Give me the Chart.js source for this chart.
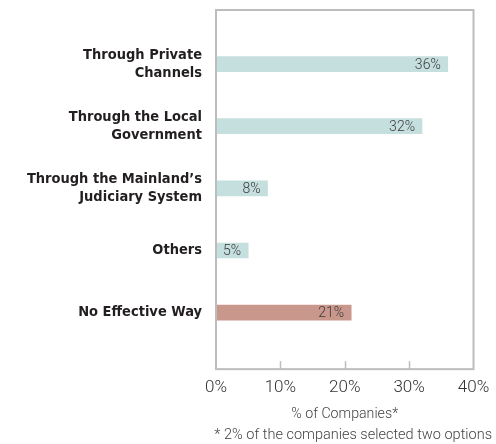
<!DOCTYPE html>
<html>
<head>
<meta charset="utf-8">
<script src="https://cdn.jsdelivr.net/npm/chart.js@4/dist/chart.umd.min.js"></script>
<style>
  html, body { margin: 0; padding: 0; background: #ffffff; }
  #wrap { width: 496px; height: 444px; }
</style>
</head>
<body>
<div id="wrap"><canvas id="c" width="496" height="444"></canvas></div>
<script>
// Channels used by companies, share of respondents (%)
const categories = [
  ["Through Private", "Channels"],
  ["Through the Local", "Government"],
  ["Through the Mainland’s", "Judiciary System"],
  "Others",
  "No Effective Way"
];
const shares = [36, 32, 8, 5, 21];
const barColors = ["#c4dfdd", "#c4dfdd", "#c4dfdd", "#c4dfdd", "#c9978b"];
const xTicks = [0, 10, 20, 30, 40];
const xTitle = "% of Companies*";
const footnote = "* 2% of the companies selected two options";

const frameColor = "#bdbdbd";

// Box around the plot plus short inward ticks on the bottom edge
const framePlugin = {
  id: "frame",
  afterDatasetsDraw(chart) {
    const { ctx, chartArea: a, scales } = chart;
    ctx.save();
    ctx.strokeStyle = frameColor;
    ctx.lineWidth = 2;
    ctx.strokeRect(a.left, a.top, a.right - a.left, a.bottom - a.top);
    ctx.lineWidth = 1.5;
    xTicks.slice(1, -1).forEach(v => {
      const x = Math.round(scales.x.getPixelForValue(v)) + 0.5;
      ctx.beginPath();
      ctx.moveTo(x, a.bottom);
      ctx.lineTo(x, a.bottom - 8);
      ctx.stroke();
    });
    ctx.restore();
  }
};

// Value labels at the inner end of each bar
const valueLabels = {
  id: "valueLabels",
  afterDatasetsDraw(chart) {
    const { ctx } = chart;
    const meta = chart.getDatasetMeta(0);
    ctx.save();
    ctx.font = "300 14px Roboto, 'Liberation Sans', sans-serif";
    ctx.fillStyle = "#3a3a3a";
    ctx.textAlign = "right";
    ctx.textBaseline = "middle";
    meta.data.forEach((bar, i) => {
      ctx.fillText(shares[i] + "%", bar.x - 7, bar.y + 1);
    });
    ctx.restore();
  }
};

new Chart(document.getElementById("c"), {
  type: "bar",
  data: {
    datasets: [{
      data: shares.map((v, i) => ({ x: v, y: i })),
      backgroundColor: barColors,
      borderWidth: 0,
      barThickness: 15
    }]
  },
  options: {
    indexAxis: "y",
    responsive: false,
    animation: false,
    layout: { padding: { top: 10, right: 4, left: 0, bottom: 0 } },
    plugins: {
      legend: { display: false },
      tooltip: { enabled: false },
      title: { display: false },
      subtitle: {
        display: true,
        position: "bottom",
        align: "end",
        text: footnote,
        color: "#444",
        font: { family: "Roboto, 'Liberation Sans', sans-serif", size: 14.5, weight: 300 },
        padding: { top: 4, bottom: 0 }
      }
    },
    scales: {
      x: {
        type: "linear",
        min: 0,
        max: 40,
        grid: { display: false, drawTicks: false },
        border: { display: false },
        afterBuildTicks(scale) { scale.ticks = xTicks.map(v => ({ value: v })); },
        afterFit(scale) { scale.paddingRight = 22.5; },
        ticks: {
          padding: 8,
          color: "#333",
          font: { family: "Roboto, 'Liberation Sans', sans-serif", size: 17, weight: 300 },
          callback: v => v + "%"
        },
        title: {
          display: true,
          text: xTitle,
          color: "#444",
          font: { family: "Roboto, 'Liberation Sans', sans-serif", size: 14.2, weight: 300 },
          padding: { top: 0, bottom: 0 }
        }
      },
      y: {
        type: "linear",
        reverse: true,
        offset: false,
        min: -0.87,
        max: 4.91,
        grid: { display: false, drawTicks: false },
        border: { display: false },
        afterBuildTicks(scale) { scale.ticks = categories.map((_, i) => ({ value: i })); },
        afterFit(scale) {
          scale.width = 216;
          scale.paddingTop = 0;
          scale.paddingBottom = 0;
        },
        ticks: {
          padding: 14,
          color: "#231f20",
          font: { family: "'DejaVu Sans Condensed', 'Liberation Sans Narrow', 'Liberation Sans', sans-serif", size: 14.5, weight: "bold", lineHeight: 1.25 },
          callback: v => categories[v]
        }
      }
    }
  },
  plugins: [framePlugin, valueLabels]
});
</script>
</body>
</html>
